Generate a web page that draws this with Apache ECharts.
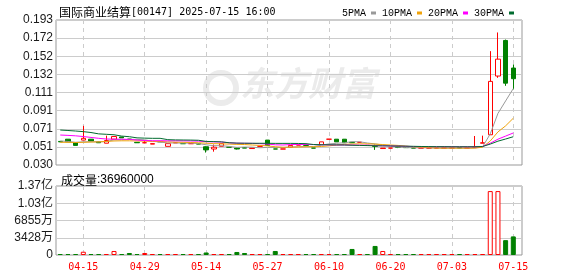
<!DOCTYPE html>
<html><head><meta charset="utf-8">
<script src="https://cdn.jsdelivr.net/npm/echarts@6/dist/echarts.min.js"></script>
<style>html,body{margin:0;padding:0;background:#fff}#c{width:578px;height:276px}</style>
</head><body><div id="c"></div>
<script>
// ---- data ----
const dates = ['04-10','04-11','04-14','04-15','04-16','04-17','04-22','04-23','04-24','04-25',
  '04-28','04-29','04-30','05-02','05-06','05-07','05-09','05-12','05-13','05-14',
  '05-15','05-16','05-19','05-21','05-22','05-23','05-26','05-27','05-28','05-29',
  '06-02','06-03','06-05','06-06','06-09','06-10','06-11','06-12','06-13','06-16',
  '06-17','06-18','06-19','06-20','06-23','06-24','06-25','06-26','06-27','06-30',
  '07-02','07-03','07-04','07-07','07-08','07-09','07-10','07-11','07-14','07-15'];
const openP = [0.0565,0.059,0.055,0.058,0.059,0.056,0.0545,0.059,0.0615,0.059,
  0.0555,0.055,0.0535,0.0565,0.051,0.055,0.054,0.054,0.054,0.0505,
  0.048,0.051,0.050,0.049,0.0495,0.0485,0.051,0.058,0.048,0.048,
  0.050,0.0525,0.052,0.049,0.053,0.059,0.059,0.059,0.0555,0.0555,
  0.052,0.0515,0.0485,0.049,0.0505,0.050,0.049,0.049,0.049,0.049,
  0.049,0.049,0.0495,0.049,0.050,0.0545,0.064,0.130,0.170,0.139];
const closeP = [0.056,0.056,0.052,0.060,0.057,0.055,0.0575,0.062,0.0605,0.059,
  0.055,0.055,0.054,0.056,0.054,0.055,0.054,0.054,0.0535,0.047,
  0.050,0.054,0.050,0.048,0.049,0.049,0.051,0.052,0.048,0.048,
  0.052,0.0525,0.052,0.049,0.056,0.059,0.056,0.055,0.055,0.0555,
  0.052,0.051,0.049,0.049,0.050,0.0495,0.049,0.049,0.049,0.049,
  0.049,0.049,0.049,0.049,0.050,0.055,0.124,0.149,0.122,0.127];
const lowP = [0.056,0.056,0.052,0.058,0.057,0.055,0.0545,0.059,0.0605,0.059,
  0.055,0.055,0.0535,0.056,0.051,0.055,0.054,0.054,0.0535,0.044,
  0.045,0.051,0.050,0.0475,0.049,0.0485,0.051,0.052,0.048,0.048,
  0.050,0.0525,0.052,0.049,0.053,0.059,0.056,0.055,0.055,0.0555,
  0.052,0.047,0.0485,0.049,0.049,0.0495,0.049,0.049,0.049,0.049,
  0.049,0.049,0.049,0.049,0.050,0.0545,0.064,0.128,0.119,0.115];
const highP = [0.0565,0.059,0.055,0.074,0.059,0.056,0.063,0.062,0.0615,0.059,
  0.0555,0.057,0.054,0.0565,0.054,0.055,0.054,0.054,0.054,0.051,
  0.053,0.054,0.050,0.0495,0.0495,0.049,0.051,0.058,0.048,0.048,
  0.052,0.0525,0.052,0.049,0.056,0.059,0.059,0.059,0.0555,0.0555,
  0.052,0.053,0.049,0.049,0.051,0.050,0.049,0.049,0.049,0.049,
  0.049,0.049,0.0495,0.049,0.0626,0.063,0.158,0.179,0.171,0.143];
const volume = [300000,500000,500000,6500000,400000,300000,500000,8000000,500000,4000000,
  400000,4000000,300000,300000,500000,300000,300000,300000,300000,5000000,
  500000,500000,300000,6000000,4000000,300000,300000,800000,8000000,300000,
  300000,300000,300000,1500000,500000,300000,1500000,1500000,12000000,300000,
  300000,18000000,8000000,300000,1000000,300000,300000,300000,300000,300000,
  300000,300000,500000,300000,500000,500000,127000000,127000000,29500000,36960000];
const ma5 = [0.057,0.0565,0.0555,0.056,0.0562,0.056,0.0563,0.0583,0.0584,0.0588,
  0.0588,0.0583,0.0567,0.0558,0.0548,0.0548,0.0546,0.0546,0.0541,0.0527,
  0.0517,0.0517,0.0509,0.0498,0.0502,0.050,0.0494,0.0498,0.0498,0.0496,
  0.0502,0.0505,0.0505,0.0507,0.0523,0.0537,0.0544,0.055,0.0562,0.0561,
  0.0547,0.0537,0.0525,0.0513,0.0502,0.0497,0.0493,0.0493,0.0493,0.0491,
  0.049,0.049,0.049,0.049,0.0492,0.0504,0.065,0.088,0.102,0.116];
const ma10 = [0.0555,0.0555,0.0553,0.0555,0.0558,0.056,0.0565,0.057,0.0572,0.0572,
  0.057,0.0568,0.0565,0.0565,0.056,0.0557,0.0555,0.0553,0.055,0.0545,
  0.054,0.0538,0.0535,0.0532,0.053,0.0525,0.052,0.0515,0.0505,0.050,
  0.050,0.0502,0.0505,0.0505,0.0508,0.0515,0.0525,0.0532,0.0536,0.0538,
  0.0538,0.0535,0.053,0.0525,0.052,0.0512,0.0505,0.050,0.0495,0.049,
  0.049,0.049,0.049,0.049,0.049,0.050,0.057,0.0672,0.074,0.0826];
const ma20 = [0.0637,0.0633,0.0628,0.062,0.061,0.060,0.0592,0.059,0.059,0.0588,
  0.058,0.0575,0.0573,0.0573,0.0572,0.0572,0.0571,0.057,0.0568,0.0562,
  0.056,0.0558,0.055,0.0545,0.0544,0.0543,0.054,0.0535,0.0527,0.0525,
  0.053,0.053,0.053,0.053,0.0528,0.0526,0.0525,0.0525,0.0524,0.0523,
  0.0523,0.0518,0.0516,0.0515,0.0512,0.051,0.0507,0.0506,0.0506,0.0506,
  0.0506,0.0506,0.0505,0.0505,0.0505,0.0508,0.0545,0.059,0.0625,0.066];
const ma30 = [0.0693,0.0688,0.0682,0.0675,0.0665,0.065,0.0645,0.064,0.0625,0.0618,
  0.0605,0.0602,0.060,0.060,0.0585,0.0582,0.0581,0.058,0.0578,0.0565,
  0.0563,0.056,0.055,0.0546,0.0545,0.0544,0.0544,0.0544,0.0543,0.0543,
  0.0543,0.0542,0.054,0.053,0.0528,0.0527,0.0526,0.0525,0.0522,0.052,
  0.0518,0.0516,0.0515,0.0514,0.0513,0.0512,0.051,0.0508,0.0507,0.0506,
  0.0506,0.0505,0.0505,0.0505,0.0505,0.0508,0.0535,0.0568,0.0592,0.0618];
const priceLabels = ['0.030','0.051','0.071','0.091','0.111','0.132','0.152','0.172','0.193'];
const volLabels = ['0','3428万','6855万','1.03亿','1.37亿'];
const tickDates = ['04-15','04-29','05-14','05-27','06-10','06-20','07-03','07-15'];
const stockTitle = '国际商业结算';
const stockInfo = '[00147] 2025-07-15 16:00';
const lastVolume = '36960000';

// ---- chart ----
const RED = '#ff0000', GREEN = '#008000';
const PMIN = 0.030, PMAX = 0.193;
const VSTEP = 34275000;
const XMIN = -0.555, XMAX = 60.133;
const GL = 56, GR = 56, CW = 578;
const tickIdx = tickDates.map(d => dates.indexOf(d));
const T0 = tickIdx[0], T1 = tickIdx[tickIdx.length - 1], TSTEP = tickIdx[1] - tickIdx[0];
const slotPx = (CW - GL - GR) / (XMAX - XMIN);
function sign(i) {
  if (closeP[i] > openP[i]) return 1;
  if (closeP[i] < openP[i]) return -1;
  return i > 0 ? (closeP[i - 1] <= closeP[i] ? 1 : -1) : 1;
}
const candleData = dates.map((d, i) => [i, openP[i], closeP[i], lowP[i], highP[i]]);
const volData = dates.map((d, i) => ({
  value: [i, volume[i]],
  itemStyle: sign(i) > 0 ? {color: '#ffffff', borderColor: RED, borderWidth: 1}
                         : {color: GREEN, borderColor: GREEN, borderWidth: 1}
}));
const line = arr => arr.map((v, i) => [i, v]);
const mono = "'DejaVu Sans Mono','Liberation Mono',monospace";
const cjk = "'Noto Sans CJK SC','Noto Sans',sans-serif";
const sans = "'Liberation Sans',Arial,sans-serif";

function xAxisDef(grid) {
  return {
    type: 'value', gridIndex: grid, min: XMIN, max: XMAX,
    axisLine: {show: false},
    axisTick: {show: false, customValues: tickIdx},
    axisLabel: {show: false},
    splitLine: {show: true, lineStyle: {color: '#cccccc', type: [4, 4], width: 1}}
  };
}
// label-only axis in its own invisible grid spanning first..last labelled day
const labelAxis = {
  type: 'value', gridIndex: 2, min: 0, max: T1 - T0, interval: TSTEP,
  axisLine: {show: false}, axisTick: {show: false}, splitLine: {show: false},
  axisLabel: {show: true, color: RED, fontFamily: mono, fontSize: 10, margin: 7,
    showMinLabel: true, showMaxLabel: true, hideOverlap: false,
    formatter: v => dates[Math.round(v) + T0] || ''}
};

const option = {
  animation: false,
  backgroundColor: '#ffffff',
  title: [
    {text: '{a|' + stockTitle + '}{b|' + stockInfo + '}', left: 54, top: 1,
     textStyle: {fontWeight: 'normal', color: '#000', rich: {a: {fontFamily: cjk, fontSize: 12, color: '#000', fontWeight: 'normal'},
                        b: {fontFamily: mono, fontSize: 10, color: '#000', fontWeight: 'normal'}}}},
    {text: '{a|成交量}{b|:' + lastVolume + '}', left: 56, top: 169,
     textStyle: {fontWeight: 'normal', color: '#000', rich: {a: {fontFamily: cjk, fontSize: 12, color: '#000', fontWeight: 'normal'},
                        b: {fontFamily: sans, fontSize: 12, color: '#000', fontWeight: 'normal'}}}}
  ],
  legend: {
    data: ['5PMA', '10PMA', '20PMA', '30PMA'], left: 337, top: 3,
    icon: 'rect', itemWidth: 5, itemHeight: 3, itemGap: 6, align: 'right',
    selectedMode: false,
    textStyle: {fontFamily: "'Liberation Mono',monospace", fontSize: 10, color: '#000'}
  },
  graphic: [
    {type: 'text', left: 240, top: 66, z: -1, silent: true,
     style: {text: '东方财富', font: 'italic bold 34px ' + cjk, fill: '#ebebeb'}},
    {type: 'circle', left: 203, top: 70, z: -1, silent: true,
     shape: {r: 15}, style: {fill: 'none', stroke: '#ebebeb', lineWidth: 6}}
  ],
  grid: [
    {left: GL, right: GR, top: 20, height: 145, show: true, borderColor: '#999', borderWidth: 1},
    {left: GL, right: GR, top: 186, height: 69, show: true, borderColor: '#999', borderWidth: 1},
    {left: GL + (T0 - XMIN) * slotPx, right: GR + (XMAX - T1) * slotPx, top: 186, height: 69, show: false}
  ],
  xAxis: [xAxisDef(0), xAxisDef(1), labelAxis],
  yAxis: [
    {type: 'value', gridIndex: 0, min: PMIN, max: PMAX, show: false, position: 'right',
     splitLine: {show: false}},
    {type: 'value', gridIndex: 0, min: 0, max: priceLabels.length - 1, interval: 1, position: 'left',
     axisLine: {show: false}, axisTick: {show: false},
     axisLabel: {fontFamily: sans, fontSize: 12, color: '#1a1a1a', margin: 3,
       formatter: v => priceLabels[Math.round(v)]},
     splitLine: {show: true, lineStyle: {color: '#cccccc', width: 1}}},
    {type: 'value', gridIndex: 1, min: 0, max: VSTEP * (volLabels.length - 1), interval: VSTEP,
     position: 'left', axisLine: {show: false}, axisTick: {show: false},
     axisLabel: {fontFamily: "'Liberation Sans','Noto Sans CJK SC',sans-serif", fontSize: 12,
       color: '#1a1a1a', margin: 3, formatter: v => volLabels[Math.round(v / VSTEP)]},
     splitLine: {show: true, lineStyle: {color: '#cccccc', width: 1}}},
    {type: 'value', gridIndex: 2, min: 0, max: 1, show: false}
  ],
  series: [
    {type: 'candlestick', xAxisIndex: 0, yAxisIndex: 0, data: candleData, barWidth: 5, z: 3,
     itemStyle: {color: '#ffffff', color0: GREEN, borderColor: RED, borderColor0: GREEN, borderWidth: 1}},
    {name: '5PMA', type: 'line', xAxisIndex: 0, yAxisIndex: 0, data: line(ma5), showSymbol: false,
     color: '#999999', lineStyle: {width: 1, color: '#999999'}, z: 4},
    {name: '10PMA', type: 'line', xAxisIndex: 0, yAxisIndex: 0, data: line(ma10), showSymbol: false,
     color: '#f0a30a', lineStyle: {width: 1, color: '#f0a30a'}, z: 4},
    {name: '20PMA', type: 'line', xAxisIndex: 0, yAxisIndex: 0, data: line(ma20), showSymbol: false,
     color: '#ff00ff', lineStyle: {width: 1, color: '#ff00ff'}, z: 4},
    {name: '30PMA', type: 'line', xAxisIndex: 0, yAxisIndex: 0, data: line(ma30), showSymbol: false,
     color: '#006b2f', lineStyle: {width: 1, color: '#006b2f'}, z: 4},
    {type: 'bar', xAxisIndex: 1, yAxisIndex: 2, data: volData, barWidth: 5, barMinHeight: 1}
  ]
};
const chart = echarts.init(document.getElementById('c'), null, {renderer: 'canvas'});
chart.setOption(option);
</script>
</body></html>
